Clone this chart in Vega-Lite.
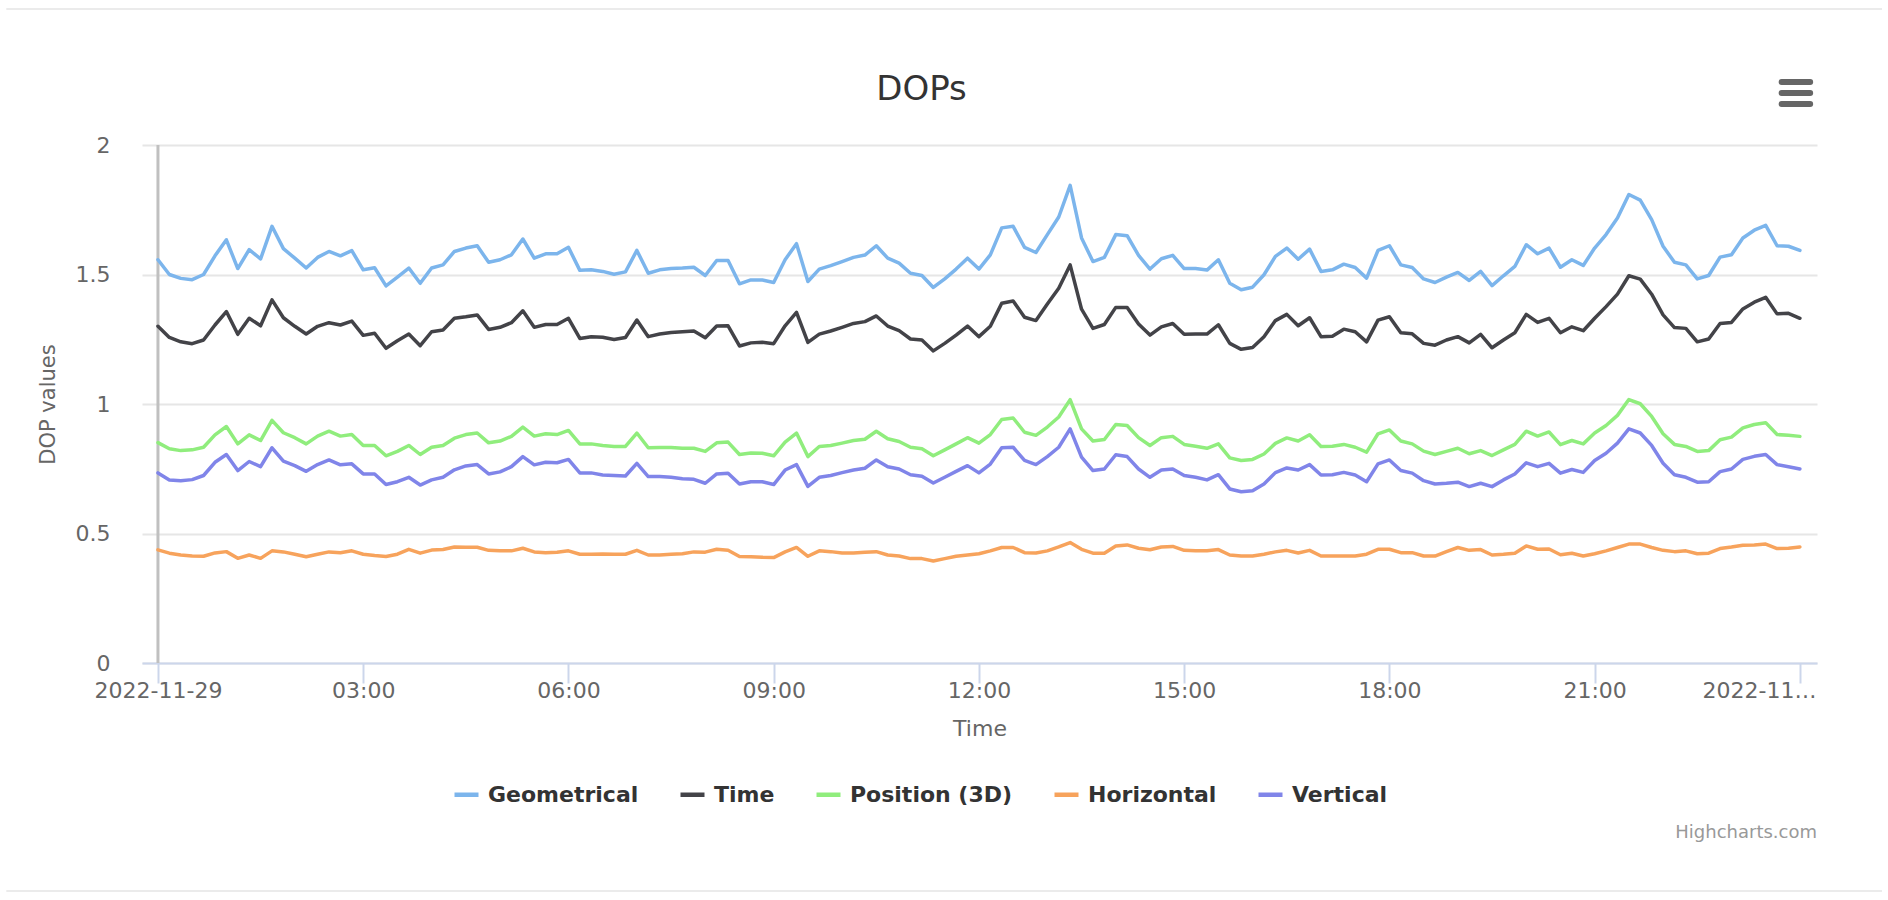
{
"$schema":"https://vega.github.io/schema/vega-lite/v6.json",
"autosize":{"type":"none"},
"width":1675,"height":518,
"padding":{"left":142,"top":145,"right":71,"bottom":237},
"background":"#ffffff",
"title":{"text":"DOPs","font":"DejaVu Sans","fontSize":34,"fontWeight":"normal","color":"#333333","anchor":"middle","frame":"group","dx":-58,"baseline":"alphabetic","offset":-126},
"config":{
 "view":{"stroke":null},
 "font":"DejaVu Sans",
 "axisX":{"domainColor":"#ccd6eb","domainWidth":2,"tickColor":"#ccd6eb","tickWidth":2,"tickSize":20,"grid":false,"labelFont":"DejaVu Sans","labelFontSize":22,"labelColor":"#666666","labelPadding":-3,"titleFont":"DejaVu Sans","titleFontSize":22,"titleFontWeight":"normal","titleColor":"#666666","zindex":1},
 "axisY":{"domain":false,"ticks":false,"gridColor":"#e6e6e6","gridWidth":2,"labelFont":"DejaVu Sans","labelFontSize":22,"labelColor":"#666666","labelPadding":32,"titleFont":"DejaVu Sans","titleFontSize":21,"titleFontWeight":"normal","titleColor":"#666666"}
},
"layer":[
{"data":{"values":[{}]},
 "mark":{"type":"rule","color":"#c0c0c0","strokeWidth":3},
 "encoding":{"x":{"datum":{"year":2022,"month":11,"date":29,"hours":0,"minutes":0},"type":"temporal","scale":{"domain":[{"year":2022,"month":11,"date":28,"hours":23,"minutes":46},{"year":2022,"month":11,"date":30,"hours":0,"minutes":15}]}}}},
{"data":{"values":[
{"t":"2022-11-29T00:00","s":"Geometrical","v":1.557},{"t":"2022-11-29T00:10","s":"Geometrical","v":1.50},{"t":"2022-11-29T00:20","s":"Geometrical","v":1.485},{"t":"2022-11-29T00:30","s":"Geometrical","v":1.48},{"t":"2022-11-29T00:40","s":"Geometrical","v":1.50},{"t":"2022-11-29T00:50","s":"Geometrical","v":1.572},
{"t":"2022-11-29T01:00","s":"Geometrical","v":1.634},{"t":"2022-11-29T01:10","s":"Geometrical","v":1.523},{"t":"2022-11-29T01:20","s":"Geometrical","v":1.596},{"t":"2022-11-29T01:30","s":"Geometrical","v":1.56},{"t":"2022-11-29T01:40","s":"Geometrical","v":1.686},{"t":"2022-11-29T01:50","s":"Geometrical","v":1.60},
{"t":"2022-11-29T02:00","s":"Geometrical","v":1.563},{"t":"2022-11-29T02:10","s":"Geometrical","v":1.525},{"t":"2022-11-29T02:20","s":"Geometrical","v":1.566},{"t":"2022-11-29T02:30","s":"Geometrical","v":1.589},{"t":"2022-11-29T02:40","s":"Geometrical","v":1.572},{"t":"2022-11-29T02:50","s":"Geometrical","v":1.592},
{"t":"2022-11-29T03:00","s":"Geometrical","v":1.518},{"t":"2022-11-29T03:10","s":"Geometrical","v":1.526},{"t":"2022-11-29T03:20","s":"Geometrical","v":1.456},{"t":"2022-11-29T03:30","s":"Geometrical","v":1.49},{"t":"2022-11-29T03:40","s":"Geometrical","v":1.525},{"t":"2022-11-29T03:50","s":"Geometrical","v":1.466},
{"t":"2022-11-29T04:00","s":"Geometrical","v":1.525},{"t":"2022-11-29T04:10","s":"Geometrical","v":1.537},{"t":"2022-11-29T04:20","s":"Geometrical","v":1.589},{"t":"2022-11-29T04:30","s":"Geometrical","v":1.602},{"t":"2022-11-29T04:40","s":"Geometrical","v":1.611},{"t":"2022-11-29T04:50","s":"Geometrical","v":1.547},
{"t":"2022-11-29T05:00","s":"Geometrical","v":1.557},{"t":"2022-11-29T05:10","s":"Geometrical","v":1.576},{"t":"2022-11-29T05:20","s":"Geometrical","v":1.637},{"t":"2022-11-29T05:30","s":"Geometrical","v":1.563},{"t":"2022-11-29T05:40","s":"Geometrical","v":1.58},{"t":"2022-11-29T05:50","s":"Geometrical","v":1.58},
{"t":"2022-11-29T06:00","s":"Geometrical","v":1.605},{"t":"2022-11-29T06:10","s":"Geometrical","v":1.516},{"t":"2022-11-29T06:20","s":"Geometrical","v":1.518},{"t":"2022-11-29T06:30","s":"Geometrical","v":1.512},{"t":"2022-11-29T06:40","s":"Geometrical","v":1.501},{"t":"2022-11-29T06:50","s":"Geometrical","v":1.51},
{"t":"2022-11-29T07:00","s":"Geometrical","v":1.593},{"t":"2022-11-29T07:10","s":"Geometrical","v":1.505},{"t":"2022-11-29T07:20","s":"Geometrical","v":1.518},{"t":"2022-11-29T07:30","s":"Geometrical","v":1.523},{"t":"2022-11-29T07:40","s":"Geometrical","v":1.525},{"t":"2022-11-29T07:50","s":"Geometrical","v":1.528},
{"t":"2022-11-29T08:00","s":"Geometrical","v":1.496},{"t":"2022-11-29T08:10","s":"Geometrical","v":1.554},{"t":"2022-11-29T08:20","s":"Geometrical","v":1.554},{"t":"2022-11-29T08:30","s":"Geometrical","v":1.464},{"t":"2022-11-29T08:40","s":"Geometrical","v":1.479},{"t":"2022-11-29T08:50","s":"Geometrical","v":1.479},
{"t":"2022-11-29T09:00","s":"Geometrical","v":1.469},{"t":"2022-11-29T09:10","s":"Geometrical","v":1.557},{"t":"2022-11-29T09:20","s":"Geometrical","v":1.619},{"t":"2022-11-29T09:30","s":"Geometrical","v":1.473},{"t":"2022-11-29T09:40","s":"Geometrical","v":1.521},{"t":"2022-11-29T09:50","s":"Geometrical","v":1.534},
{"t":"2022-11-29T10:00","s":"Geometrical","v":1.55},{"t":"2022-11-29T10:10","s":"Geometrical","v":1.566},{"t":"2022-11-29T10:20","s":"Geometrical","v":1.575},{"t":"2022-11-29T10:30","s":"Geometrical","v":1.611},{"t":"2022-11-29T10:40","s":"Geometrical","v":1.563},{"t":"2022-11-29T10:50","s":"Geometrical","v":1.544},
{"t":"2022-11-29T11:00","s":"Geometrical","v":1.505},{"t":"2022-11-29T11:10","s":"Geometrical","v":1.496},{"t":"2022-11-29T11:20","s":"Geometrical","v":1.45},{"t":"2022-11-29T11:30","s":"Geometrical","v":1.483},{"t":"2022-11-29T11:40","s":"Geometrical","v":1.521},{"t":"2022-11-29T11:50","s":"Geometrical","v":1.563},
{"t":"2022-11-29T12:00","s":"Geometrical","v":1.521},{"t":"2022-11-29T12:10","s":"Geometrical","v":1.576},{"t":"2022-11-29T12:20","s":"Geometrical","v":1.68},{"t":"2022-11-29T12:30","s":"Geometrical","v":1.686},{"t":"2022-11-29T12:40","s":"Geometrical","v":1.605},{"t":"2022-11-29T12:50","s":"Geometrical","v":1.585},
{"t":"2022-11-29T13:00","s":"Geometrical","v":1.654},{"t":"2022-11-29T13:10","s":"Geometrical","v":1.722},{"t":"2022-11-29T13:20","s":"Geometrical","v":1.844},{"t":"2022-11-29T13:30","s":"Geometrical","v":1.641},{"t":"2022-11-29T13:40","s":"Geometrical","v":1.55},{"t":"2022-11-29T13:50","s":"Geometrical","v":1.566},
{"t":"2022-11-29T14:00","s":"Geometrical","v":1.654},{"t":"2022-11-29T14:10","s":"Geometrical","v":1.65},{"t":"2022-11-29T14:20","s":"Geometrical","v":1.574},{"t":"2022-11-29T14:30","s":"Geometrical","v":1.521},{"t":"2022-11-29T14:40","s":"Geometrical","v":1.561},{"t":"2022-11-29T14:50","s":"Geometrical","v":1.574},
{"t":"2022-11-29T15:00","s":"Geometrical","v":1.523},{"t":"2022-11-29T15:10","s":"Geometrical","v":1.523},{"t":"2022-11-29T15:20","s":"Geometrical","v":1.517},{"t":"2022-11-29T15:30","s":"Geometrical","v":1.557},{"t":"2022-11-29T15:40","s":"Geometrical","v":1.466},{"t":"2022-11-29T15:50","s":"Geometrical","v":1.441},
{"t":"2022-11-29T16:00","s":"Geometrical","v":1.451},{"t":"2022-11-29T16:10","s":"Geometrical","v":1.499},{"t":"2022-11-29T16:20","s":"Geometrical","v":1.57},{"t":"2022-11-29T16:30","s":"Geometrical","v":1.602},{"t":"2022-11-29T16:40","s":"Geometrical","v":1.559},{"t":"2022-11-29T16:50","s":"Geometrical","v":1.598},
{"t":"2022-11-29T17:00","s":"Geometrical","v":1.512},{"t":"2022-11-29T17:10","s":"Geometrical","v":1.518},{"t":"2022-11-29T17:20","s":"Geometrical","v":1.54},{"t":"2022-11-29T17:30","s":"Geometrical","v":1.527},{"t":"2022-11-29T17:40","s":"Geometrical","v":1.486},{"t":"2022-11-29T17:50","s":"Geometrical","v":1.593},
{"t":"2022-11-29T18:00","s":"Geometrical","v":1.611},{"t":"2022-11-29T18:10","s":"Geometrical","v":1.537},{"t":"2022-11-29T18:20","s":"Geometrical","v":1.527},{"t":"2022-11-29T18:30","s":"Geometrical","v":1.483},{"t":"2022-11-29T18:40","s":"Geometrical","v":1.469},{"t":"2022-11-29T18:50","s":"Geometrical","v":1.49},
{"t":"2022-11-29T19:00","s":"Geometrical","v":1.508},{"t":"2022-11-29T19:10","s":"Geometrical","v":1.477},{"t":"2022-11-29T19:20","s":"Geometrical","v":1.512},{"t":"2022-11-29T19:30","s":"Geometrical","v":1.457},{"t":"2022-11-29T19:40","s":"Geometrical","v":1.495},{"t":"2022-11-29T19:50","s":"Geometrical","v":1.531},
{"t":"2022-11-29T20:00","s":"Geometrical","v":1.615},{"t":"2022-11-29T20:10","s":"Geometrical","v":1.58},{"t":"2022-11-29T20:20","s":"Geometrical","v":1.602},{"t":"2022-11-29T20:30","s":"Geometrical","v":1.528},{"t":"2022-11-29T20:40","s":"Geometrical","v":1.557},{"t":"2022-11-29T20:50","s":"Geometrical","v":1.535},
{"t":"2022-11-29T21:00","s":"Geometrical","v":1.602},{"t":"2022-11-29T21:10","s":"Geometrical","v":1.654},{"t":"2022-11-29T21:20","s":"Geometrical","v":1.718},{"t":"2022-11-29T21:30","s":"Geometrical","v":1.809},{"t":"2022-11-29T21:40","s":"Geometrical","v":1.787},{"t":"2022-11-29T21:50","s":"Geometrical","v":1.712},
{"t":"2022-11-29T22:00","s":"Geometrical","v":1.609},{"t":"2022-11-29T22:10","s":"Geometrical","v":1.547},{"t":"2022-11-29T22:20","s":"Geometrical","v":1.537},{"t":"2022-11-29T22:30","s":"Geometrical","v":1.483},{"t":"2022-11-29T22:40","s":"Geometrical","v":1.496},{"t":"2022-11-29T22:50","s":"Geometrical","v":1.567},
{"t":"2022-11-29T23:00","s":"Geometrical","v":1.576},{"t":"2022-11-29T23:10","s":"Geometrical","v":1.641},{"t":"2022-11-29T23:20","s":"Geometrical","v":1.671},{"t":"2022-11-29T23:30","s":"Geometrical","v":1.69},{"t":"2022-11-29T23:40","s":"Geometrical","v":1.611},{"t":"2022-11-29T23:50","s":"Geometrical","v":1.609},
{"t":"2022-11-30T00:00","s":"Geometrical","v":1.593},
{"t":"2022-11-29T00:00","s":"Time","v":1.30},{"t":"2022-11-29T00:10","s":"Time","v":1.257},{"t":"2022-11-29T00:20","s":"Time","v":1.24},{"t":"2022-11-29T00:30","s":"Time","v":1.233},{"t":"2022-11-29T00:40","s":"Time","v":1.247},{"t":"2022-11-29T00:50","s":"Time","v":1.305},
{"t":"2022-11-29T01:00","s":"Time","v":1.357},{"t":"2022-11-29T01:10","s":"Time","v":1.269},{"t":"2022-11-29T01:20","s":"Time","v":1.331},{"t":"2022-11-29T01:30","s":"Time","v":1.302},{"t":"2022-11-29T01:40","s":"Time","v":1.402},{"t":"2022-11-29T01:50","s":"Time","v":1.333},
{"t":"2022-11-29T02:00","s":"Time","v":1.30},{"t":"2022-11-29T02:10","s":"Time","v":1.27},{"t":"2022-11-29T02:20","s":"Time","v":1.30},{"t":"2022-11-29T02:30","s":"Time","v":1.314},{"t":"2022-11-29T02:40","s":"Time","v":1.305},{"t":"2022-11-29T02:50","s":"Time","v":1.32},
{"t":"2022-11-29T03:00","s":"Time","v":1.265},{"t":"2022-11-29T03:10","s":"Time","v":1.273},{"t":"2022-11-29T03:20","s":"Time","v":1.215},{"t":"2022-11-29T03:30","s":"Time","v":1.244},{"t":"2022-11-29T03:40","s":"Time","v":1.27},{"t":"2022-11-29T03:50","s":"Time","v":1.225},
{"t":"2022-11-29T04:00","s":"Time","v":1.279},{"t":"2022-11-29T04:10","s":"Time","v":1.286},{"t":"2022-11-29T04:20","s":"Time","v":1.331},{"t":"2022-11-29T04:30","s":"Time","v":1.337},{"t":"2022-11-29T04:40","s":"Time","v":1.344},{"t":"2022-11-29T04:50","s":"Time","v":1.288},
{"t":"2022-11-29T05:00","s":"Time","v":1.296},{"t":"2022-11-29T05:10","s":"Time","v":1.314},{"t":"2022-11-29T05:20","s":"Time","v":1.36},{"t":"2022-11-29T05:30","s":"Time","v":1.296},{"t":"2022-11-29T05:40","s":"Time","v":1.307},{"t":"2022-11-29T05:50","s":"Time","v":1.307},
{"t":"2022-11-29T06:00","s":"Time","v":1.331},{"t":"2022-11-29T06:10","s":"Time","v":1.253},{"t":"2022-11-29T06:20","s":"Time","v":1.26},{"t":"2022-11-29T06:30","s":"Time","v":1.258},{"t":"2022-11-29T06:40","s":"Time","v":1.249},{"t":"2022-11-29T06:50","s":"Time","v":1.257},
{"t":"2022-11-29T07:00","s":"Time","v":1.324},{"t":"2022-11-29T07:10","s":"Time","v":1.26},{"t":"2022-11-29T07:20","s":"Time","v":1.27},{"t":"2022-11-29T07:30","s":"Time","v":1.276},{"t":"2022-11-29T07:40","s":"Time","v":1.279},{"t":"2022-11-29T07:50","s":"Time","v":1.282},
{"t":"2022-11-29T08:00","s":"Time","v":1.256},{"t":"2022-11-29T08:10","s":"Time","v":1.301},{"t":"2022-11-29T08:20","s":"Time","v":1.302},{"t":"2022-11-29T08:30","s":"Time","v":1.224},{"t":"2022-11-29T08:40","s":"Time","v":1.236},{"t":"2022-11-29T08:50","s":"Time","v":1.238},
{"t":"2022-11-29T09:00","s":"Time","v":1.233},{"t":"2022-11-29T09:10","s":"Time","v":1.302},{"t":"2022-11-29T09:20","s":"Time","v":1.354},{"t":"2022-11-29T09:30","s":"Time","v":1.238},{"t":"2022-11-29T09:40","s":"Time","v":1.27},{"t":"2022-11-29T09:50","s":"Time","v":1.282},
{"t":"2022-11-29T10:00","s":"Time","v":1.296},{"t":"2022-11-29T10:10","s":"Time","v":1.311},{"t":"2022-11-29T10:20","s":"Time","v":1.318},{"t":"2022-11-29T10:30","s":"Time","v":1.34},{"t":"2022-11-29T10:40","s":"Time","v":1.301},{"t":"2022-11-29T10:50","s":"Time","v":1.283},
{"t":"2022-11-29T11:00","s":"Time","v":1.251},{"t":"2022-11-29T11:10","s":"Time","v":1.247},{"t":"2022-11-29T11:20","s":"Time","v":1.205},{"t":"2022-11-29T11:30","s":"Time","v":1.234},{"t":"2022-11-29T11:40","s":"Time","v":1.266},{"t":"2022-11-29T11:50","s":"Time","v":1.301},
{"t":"2022-11-29T12:00","s":"Time","v":1.26},{"t":"2022-11-29T12:10","s":"Time","v":1.30},{"t":"2022-11-29T12:20","s":"Time","v":1.389},{"t":"2022-11-29T12:30","s":"Time","v":1.398},{"t":"2022-11-29T12:40","s":"Time","v":1.335},{"t":"2022-11-29T12:50","s":"Time","v":1.322},
{"t":"2022-11-29T13:00","s":"Time","v":1.386},{"t":"2022-11-29T13:10","s":"Time","v":1.447},{"t":"2022-11-29T13:20","s":"Time","v":1.537},{"t":"2022-11-29T13:30","s":"Time","v":1.366},{"t":"2022-11-29T13:40","s":"Time","v":1.292},{"t":"2022-11-29T13:50","s":"Time","v":1.307},
{"t":"2022-11-29T14:00","s":"Time","v":1.373},{"t":"2022-11-29T14:10","s":"Time","v":1.373},{"t":"2022-11-29T14:20","s":"Time","v":1.309},{"t":"2022-11-29T14:30","s":"Time","v":1.266},{"t":"2022-11-29T14:40","s":"Time","v":1.298},{"t":"2022-11-29T14:50","s":"Time","v":1.311},
{"t":"2022-11-29T15:00","s":"Time","v":1.269},{"t":"2022-11-29T15:10","s":"Time","v":1.27},{"t":"2022-11-29T15:20","s":"Time","v":1.27},{"t":"2022-11-29T15:30","s":"Time","v":1.306},{"t":"2022-11-29T15:40","s":"Time","v":1.234},{"t":"2022-11-29T15:50","s":"Time","v":1.211},
{"t":"2022-11-29T16:00","s":"Time","v":1.218},{"t":"2022-11-29T16:10","s":"Time","v":1.26},{"t":"2022-11-29T16:20","s":"Time","v":1.322},{"t":"2022-11-29T16:30","s":"Time","v":1.346},{"t":"2022-11-29T16:40","s":"Time","v":1.302},{"t":"2022-11-29T16:50","s":"Time","v":1.333},
{"t":"2022-11-29T17:00","s":"Time","v":1.26},{"t":"2022-11-29T17:10","s":"Time","v":1.262},{"t":"2022-11-29T17:20","s":"Time","v":1.289},{"t":"2022-11-29T17:30","s":"Time","v":1.279},{"t":"2022-11-29T17:40","s":"Time","v":1.24},{"t":"2022-11-29T17:50","s":"Time","v":1.324},
{"t":"2022-11-29T18:00","s":"Time","v":1.337},{"t":"2022-11-29T18:10","s":"Time","v":1.275},{"t":"2022-11-29T18:20","s":"Time","v":1.271},{"t":"2022-11-29T18:30","s":"Time","v":1.234},{"t":"2022-11-29T18:40","s":"Time","v":1.227},{"t":"2022-11-29T18:50","s":"Time","v":1.247},
{"t":"2022-11-29T19:00","s":"Time","v":1.26},{"t":"2022-11-29T19:10","s":"Time","v":1.236},{"t":"2022-11-29T19:20","s":"Time","v":1.269},{"t":"2022-11-29T19:30","s":"Time","v":1.217},{"t":"2022-11-29T19:40","s":"Time","v":1.247},{"t":"2022-11-29T19:50","s":"Time","v":1.275},
{"t":"2022-11-29T20:00","s":"Time","v":1.346},{"t":"2022-11-29T20:10","s":"Time","v":1.315},{"t":"2022-11-29T20:20","s":"Time","v":1.331},{"t":"2022-11-29T20:30","s":"Time","v":1.275},{"t":"2022-11-29T20:40","s":"Time","v":1.298},{"t":"2022-11-29T20:50","s":"Time","v":1.283},
{"t":"2022-11-29T21:00","s":"Time","v":1.331},{"t":"2022-11-29T21:10","s":"Time","v":1.376},{"t":"2022-11-29T21:20","s":"Time","v":1.424},{"t":"2022-11-29T21:30","s":"Time","v":1.495},{"t":"2022-11-29T21:40","s":"Time","v":1.482},{"t":"2022-11-29T21:50","s":"Time","v":1.424},
{"t":"2022-11-29T22:00","s":"Time","v":1.344},{"t":"2022-11-29T22:10","s":"Time","v":1.295},{"t":"2022-11-29T22:20","s":"Time","v":1.292},{"t":"2022-11-29T22:30","s":"Time","v":1.24},{"t":"2022-11-29T22:40","s":"Time","v":1.251},{"t":"2022-11-29T22:50","s":"Time","v":1.311},
{"t":"2022-11-29T23:00","s":"Time","v":1.315},{"t":"2022-11-29T23:10","s":"Time","v":1.367},{"t":"2022-11-29T23:20","s":"Time","v":1.393},{"t":"2022-11-29T23:30","s":"Time","v":1.412},{"t":"2022-11-29T23:40","s":"Time","v":1.348},{"t":"2022-11-29T23:50","s":"Time","v":1.35},
{"t":"2022-11-30T00:00","s":"Time","v":1.331},
{"t":"2022-11-29T00:00","s":"Position (3D)","v":0.851},{"t":"2022-11-29T00:10","s":"Position (3D)","v":0.827},{"t":"2022-11-29T00:20","s":"Position (3D)","v":0.82},{"t":"2022-11-29T00:30","s":"Position (3D)","v":0.823},{"t":"2022-11-29T00:40","s":"Position (3D)","v":0.833},{"t":"2022-11-29T00:50","s":"Position (3D)","v":0.881},
{"t":"2022-11-29T01:00","s":"Position (3D)","v":0.913},{"t":"2022-11-29T01:10","s":"Position (3D)","v":0.846},{"t":"2022-11-29T01:20","s":"Position (3D)","v":0.881},{"t":"2022-11-29T01:30","s":"Position (3D)","v":0.859},{"t":"2022-11-29T01:40","s":"Position (3D)","v":0.937},{"t":"2022-11-29T01:50","s":"Position (3D)","v":0.889},
{"t":"2022-11-29T02:00","s":"Position (3D)","v":0.87},{"t":"2022-11-29T02:10","s":"Position (3D)","v":0.846},{"t":"2022-11-29T02:20","s":"Position (3D)","v":0.876},{"t":"2022-11-29T02:30","s":"Position (3D)","v":0.895},{"t":"2022-11-29T02:40","s":"Position (3D)","v":0.876},{"t":"2022-11-29T02:50","s":"Position (3D)","v":0.882},
{"t":"2022-11-29T03:00","s":"Position (3D)","v":0.84},{"t":"2022-11-29T03:10","s":"Position (3D)","v":0.84},{"t":"2022-11-29T03:20","s":"Position (3D)","v":0.80},{"t":"2022-11-29T03:30","s":"Position (3D)","v":0.817},{"t":"2022-11-29T03:40","s":"Position (3D)","v":0.84},{"t":"2022-11-29T03:50","s":"Position (3D)","v":0.805},
{"t":"2022-11-29T04:00","s":"Position (3D)","v":0.833},{"t":"2022-11-29T04:10","s":"Position (3D)","v":0.84},{"t":"2022-11-29T04:20","s":"Position (3D)","v":0.868},{"t":"2022-11-29T04:30","s":"Position (3D)","v":0.882},{"t":"2022-11-29T04:40","s":"Position (3D)","v":0.888},{"t":"2022-11-29T04:50","s":"Position (3D)","v":0.85},
{"t":"2022-11-29T05:00","s":"Position (3D)","v":0.857},{"t":"2022-11-29T05:10","s":"Position (3D)","v":0.875},{"t":"2022-11-29T05:20","s":"Position (3D)","v":0.911},{"t":"2022-11-29T05:30","s":"Position (3D)","v":0.876},{"t":"2022-11-29T05:40","s":"Position (3D)","v":0.885},{"t":"2022-11-29T05:50","s":"Position (3D)","v":0.882},
{"t":"2022-11-29T06:00","s":"Position (3D)","v":0.898},{"t":"2022-11-29T06:10","s":"Position (3D)","v":0.846},{"t":"2022-11-29T06:20","s":"Position (3D)","v":0.846},{"t":"2022-11-29T06:30","s":"Position (3D)","v":0.84},{"t":"2022-11-29T06:40","s":"Position (3D)","v":0.836},{"t":"2022-11-29T06:50","s":"Position (3D)","v":0.836},
{"t":"2022-11-29T07:00","s":"Position (3D)","v":0.888},{"t":"2022-11-29T07:10","s":"Position (3D)","v":0.831},{"t":"2022-11-29T07:20","s":"Position (3D)","v":0.832},{"t":"2022-11-29T07:30","s":"Position (3D)","v":0.832},{"t":"2022-11-29T07:40","s":"Position (3D)","v":0.829},{"t":"2022-11-29T07:50","s":"Position (3D)","v":0.829},
{"t":"2022-11-29T08:00","s":"Position (3D)","v":0.817},{"t":"2022-11-29T08:10","s":"Position (3D)","v":0.85},{"t":"2022-11-29T08:20","s":"Position (3D)","v":0.853},{"t":"2022-11-29T08:30","s":"Position (3D)","v":0.805},{"t":"2022-11-29T08:40","s":"Position (3D)","v":0.811},{"t":"2022-11-29T08:50","s":"Position (3D)","v":0.81},
{"t":"2022-11-29T09:00","s":"Position (3D)","v":0.80},{"t":"2022-11-29T09:10","s":"Position (3D)","v":0.853},{"t":"2022-11-29T09:20","s":"Position (3D)","v":0.888},{"t":"2022-11-29T09:30","s":"Position (3D)","v":0.797},{"t":"2022-11-29T09:40","s":"Position (3D)","v":0.836},{"t":"2022-11-29T09:50","s":"Position (3D)","v":0.84},
{"t":"2022-11-29T10:00","s":"Position (3D)","v":0.849},{"t":"2022-11-29T10:10","s":"Position (3D)","v":0.859},{"t":"2022-11-29T10:20","s":"Position (3D)","v":0.864},{"t":"2022-11-29T10:30","s":"Position (3D)","v":0.895},{"t":"2022-11-29T10:40","s":"Position (3D)","v":0.866},{"t":"2022-11-29T10:50","s":"Position (3D)","v":0.855},
{"t":"2022-11-29T11:00","s":"Position (3D)","v":0.833},{"t":"2022-11-29T11:10","s":"Position (3D)","v":0.827},{"t":"2022-11-29T11:20","s":"Position (3D)","v":0.80},{"t":"2022-11-29T11:30","s":"Position (3D)","v":0.823},{"t":"2022-11-29T11:40","s":"Position (3D)","v":0.846},{"t":"2022-11-29T11:50","s":"Position (3D)","v":0.87},
{"t":"2022-11-29T12:00","s":"Position (3D)","v":0.849},{"t":"2022-11-29T12:10","s":"Position (3D)","v":0.882},{"t":"2022-11-29T12:20","s":"Position (3D)","v":0.94},{"t":"2022-11-29T12:30","s":"Position (3D)","v":0.946},{"t":"2022-11-29T12:40","s":"Position (3D)","v":0.891},{"t":"2022-11-29T12:50","s":"Position (3D)","v":0.879},
{"t":"2022-11-29T13:00","s":"Position (3D)","v":0.911},{"t":"2022-11-29T13:10","s":"Position (3D)","v":0.95},{"t":"2022-11-29T13:20","s":"Position (3D)","v":1.017},{"t":"2022-11-29T13:30","s":"Position (3D)","v":0.904},{"t":"2022-11-29T13:40","s":"Position (3D)","v":0.857},{"t":"2022-11-29T13:50","s":"Position (3D)","v":0.863},
{"t":"2022-11-29T14:00","s":"Position (3D)","v":0.921},{"t":"2022-11-29T14:10","s":"Position (3D)","v":0.917},{"t":"2022-11-29T14:20","s":"Position (3D)","v":0.87},{"t":"2022-11-29T14:30","s":"Position (3D)","v":0.84},{"t":"2022-11-29T14:40","s":"Position (3D)","v":0.87},{"t":"2022-11-29T14:50","s":"Position (3D)","v":0.875},
{"t":"2022-11-29T15:00","s":"Position (3D)","v":0.844},{"t":"2022-11-29T15:10","s":"Position (3D)","v":0.837},{"t":"2022-11-29T15:20","s":"Position (3D)","v":0.829},{"t":"2022-11-29T15:30","s":"Position (3D)","v":0.846},{"t":"2022-11-29T15:40","s":"Position (3D)","v":0.792},{"t":"2022-11-29T15:50","s":"Position (3D)","v":0.782},
{"t":"2022-11-29T16:00","s":"Position (3D)","v":0.786},{"t":"2022-11-29T16:10","s":"Position (3D)","v":0.807},{"t":"2022-11-29T16:20","s":"Position (3D)","v":0.848},{"t":"2022-11-29T16:30","s":"Position (3D)","v":0.869},{"t":"2022-11-29T16:40","s":"Position (3D)","v":0.857},{"t":"2022-11-29T16:50","s":"Position (3D)","v":0.881},
{"t":"2022-11-29T17:00","s":"Position (3D)","v":0.836},{"t":"2022-11-29T17:10","s":"Position (3D)","v":0.837},{"t":"2022-11-29T17:20","s":"Position (3D)","v":0.844},{"t":"2022-11-29T17:30","s":"Position (3D)","v":0.833},{"t":"2022-11-29T17:40","s":"Position (3D)","v":0.814},{"t":"2022-11-29T17:50","s":"Position (3D)","v":0.885},
{"t":"2022-11-29T18:00","s":"Position (3D)","v":0.90},{"t":"2022-11-29T18:10","s":"Position (3D)","v":0.857},{"t":"2022-11-29T18:20","s":"Position (3D)","v":0.846},{"t":"2022-11-29T18:30","s":"Position (3D)","v":0.818},{"t":"2022-11-29T18:40","s":"Position (3D)","v":0.805},{"t":"2022-11-29T18:50","s":"Position (3D)","v":0.817},
{"t":"2022-11-29T19:00","s":"Position (3D)","v":0.829},{"t":"2022-11-29T19:10","s":"Position (3D)","v":0.808},{"t":"2022-11-29T19:20","s":"Position (3D)","v":0.82},{"t":"2022-11-29T19:30","s":"Position (3D)","v":0.801},{"t":"2022-11-29T19:40","s":"Position (3D)","v":0.823},{"t":"2022-11-29T19:50","s":"Position (3D)","v":0.844},
{"t":"2022-11-29T20:00","s":"Position (3D)","v":0.895},{"t":"2022-11-29T20:10","s":"Position (3D)","v":0.876},{"t":"2022-11-29T20:20","s":"Position (3D)","v":0.892},{"t":"2022-11-29T20:30","s":"Position (3D)","v":0.843},{"t":"2022-11-29T20:40","s":"Position (3D)","v":0.859},{"t":"2022-11-29T20:50","s":"Position (3D)","v":0.846},
{"t":"2022-11-29T21:00","s":"Position (3D)","v":0.888},{"t":"2022-11-29T21:10","s":"Position (3D)","v":0.917},{"t":"2022-11-29T21:20","s":"Position (3D)","v":0.956},{"t":"2022-11-29T21:30","s":"Position (3D)","v":1.017},{"t":"2022-11-29T21:40","s":"Position (3D)","v":1.001},{"t":"2022-11-29T21:50","s":"Position (3D)","v":0.952},
{"t":"2022-11-29T22:00","s":"Position (3D)","v":0.885},{"t":"2022-11-29T22:10","s":"Position (3D)","v":0.844},{"t":"2022-11-29T22:20","s":"Position (3D)","v":0.836},{"t":"2022-11-29T22:30","s":"Position (3D)","v":0.817},{"t":"2022-11-29T22:40","s":"Position (3D)","v":0.82},{"t":"2022-11-29T22:50","s":"Position (3D)","v":0.862},
{"t":"2022-11-29T23:00","s":"Position (3D)","v":0.872},{"t":"2022-11-29T23:10","s":"Position (3D)","v":0.908},{"t":"2022-11-29T23:20","s":"Position (3D)","v":0.921},{"t":"2022-11-29T23:30","s":"Position (3D)","v":0.928},{"t":"2022-11-29T23:40","s":"Position (3D)","v":0.882},{"t":"2022-11-29T23:50","s":"Position (3D)","v":0.879},
{"t":"2022-11-30T00:00","s":"Position (3D)","v":0.875},
{"t":"2022-11-29T00:00","s":"Horizontal","v":0.437},{"t":"2022-11-29T00:10","s":"Horizontal","v":0.424},{"t":"2022-11-29T00:20","s":"Horizontal","v":0.417},{"t":"2022-11-29T00:30","s":"Horizontal","v":0.413},{"t":"2022-11-29T00:40","s":"Horizontal","v":0.412},{"t":"2022-11-29T00:50","s":"Horizontal","v":0.425},
{"t":"2022-11-29T01:00","s":"Horizontal","v":0.43},{"t":"2022-11-29T01:10","s":"Horizontal","v":0.404},{"t":"2022-11-29T01:20","s":"Horizontal","v":0.417},{"t":"2022-11-29T01:30","s":"Horizontal","v":0.404},{"t":"2022-11-29T01:40","s":"Horizontal","v":0.433},{"t":"2022-11-29T01:50","s":"Horizontal","v":0.429},
{"t":"2022-11-29T02:00","s":"Horizontal","v":0.42},{"t":"2022-11-29T02:10","s":"Horizontal","v":0.41},{"t":"2022-11-29T02:20","s":"Horizontal","v":0.42},{"t":"2022-11-29T02:30","s":"Horizontal","v":0.429},{"t":"2022-11-29T02:40","s":"Horizontal","v":0.426},{"t":"2022-11-29T02:50","s":"Horizontal","v":0.433},
{"t":"2022-11-29T03:00","s":"Horizontal","v":0.42},{"t":"2022-11-29T03:10","s":"Horizontal","v":0.415},{"t":"2022-11-29T03:20","s":"Horizontal","v":0.411},{"t":"2022-11-29T03:30","s":"Horizontal","v":0.42},{"t":"2022-11-29T03:40","s":"Horizontal","v":0.439},{"t":"2022-11-29T03:50","s":"Horizontal","v":0.424},
{"t":"2022-11-29T04:00","s":"Horizontal","v":0.436},{"t":"2022-11-29T04:10","s":"Horizontal","v":0.438},{"t":"2022-11-29T04:20","s":"Horizontal","v":0.448},{"t":"2022-11-29T04:30","s":"Horizontal","v":0.447},{"t":"2022-11-29T04:40","s":"Horizontal","v":0.447},{"t":"2022-11-29T04:50","s":"Horizontal","v":0.435},
{"t":"2022-11-29T05:00","s":"Horizontal","v":0.433},{"t":"2022-11-29T05:10","s":"Horizontal","v":0.433},{"t":"2022-11-29T05:20","s":"Horizontal","v":0.443},{"t":"2022-11-29T05:30","s":"Horizontal","v":0.429},{"t":"2022-11-29T05:40","s":"Horizontal","v":0.426},{"t":"2022-11-29T05:50","s":"Horizontal","v":0.428},
{"t":"2022-11-29T06:00","s":"Horizontal","v":0.433},{"t":"2022-11-29T06:10","s":"Horizontal","v":0.42},{"t":"2022-11-29T06:20","s":"Horizontal","v":0.42},{"t":"2022-11-29T06:30","s":"Horizontal","v":0.421},{"t":"2022-11-29T06:40","s":"Horizontal","v":0.42},{"t":"2022-11-29T06:50","s":"Horizontal","v":0.42},
{"t":"2022-11-29T07:00","s":"Horizontal","v":0.435},{"t":"2022-11-29T07:10","s":"Horizontal","v":0.417},{"t":"2022-11-29T07:20","s":"Horizontal","v":0.417},{"t":"2022-11-29T07:30","s":"Horizontal","v":0.42},{"t":"2022-11-29T07:40","s":"Horizontal","v":0.422},{"t":"2022-11-29T07:50","s":"Horizontal","v":0.429},
{"t":"2022-11-29T08:00","s":"Horizontal","v":0.428},{"t":"2022-11-29T08:10","s":"Horizontal","v":0.439},{"t":"2022-11-29T08:20","s":"Horizontal","v":0.435},{"t":"2022-11-29T08:30","s":"Horizontal","v":0.411},{"t":"2022-11-29T08:40","s":"Horizontal","v":0.41},{"t":"2022-11-29T08:50","s":"Horizontal","v":0.408},
{"t":"2022-11-29T09:00","s":"Horizontal","v":0.407},{"t":"2022-11-29T09:10","s":"Horizontal","v":0.429},{"t":"2022-11-29T09:20","s":"Horizontal","v":0.446},{"t":"2022-11-29T09:30","s":"Horizontal","v":0.412},{"t":"2022-11-29T09:40","s":"Horizontal","v":0.433},{"t":"2022-11-29T09:50","s":"Horizontal","v":0.43},
{"t":"2022-11-29T10:00","s":"Horizontal","v":0.425},{"t":"2022-11-29T10:10","s":"Horizontal","v":0.425},{"t":"2022-11-29T10:20","s":"Horizontal","v":0.428},{"t":"2022-11-29T10:30","s":"Horizontal","v":0.43},{"t":"2022-11-29T10:40","s":"Horizontal","v":0.417},{"t":"2022-11-29T10:50","s":"Horizontal","v":0.413},
{"t":"2022-11-29T11:00","s":"Horizontal","v":0.403},{"t":"2022-11-29T11:10","s":"Horizontal","v":0.403},{"t":"2022-11-29T11:20","s":"Horizontal","v":0.394},{"t":"2022-11-29T11:30","s":"Horizontal","v":0.403},{"t":"2022-11-29T11:40","s":"Horizontal","v":0.412},{"t":"2022-11-29T11:50","s":"Horizontal","v":0.417},
{"t":"2022-11-29T12:00","s":"Horizontal","v":0.422},{"t":"2022-11-29T12:10","s":"Horizontal","v":0.433},{"t":"2022-11-29T12:20","s":"Horizontal","v":0.446},{"t":"2022-11-29T12:30","s":"Horizontal","v":0.446},{"t":"2022-11-29T12:40","s":"Horizontal","v":0.426},{"t":"2022-11-29T12:50","s":"Horizontal","v":0.425},
{"t":"2022-11-29T13:00","s":"Horizontal","v":0.433},{"t":"2022-11-29T13:10","s":"Horizontal","v":0.448},{"t":"2022-11-29T13:20","s":"Horizontal","v":0.465},{"t":"2022-11-29T13:30","s":"Horizontal","v":0.439},{"t":"2022-11-29T13:40","s":"Horizontal","v":0.424},{"t":"2022-11-29T13:50","s":"Horizontal","v":0.424},
{"t":"2022-11-29T14:00","s":"Horizontal","v":0.452},{"t":"2022-11-29T14:10","s":"Horizontal","v":0.456},{"t":"2022-11-29T14:20","s":"Horizontal","v":0.443},{"t":"2022-11-29T14:30","s":"Horizontal","v":0.437},{"t":"2022-11-29T14:40","s":"Horizontal","v":0.448},{"t":"2022-11-29T14:50","s":"Horizontal","v":0.45},
{"t":"2022-11-29T15:00","s":"Horizontal","v":0.435},{"t":"2022-11-29T15:10","s":"Horizontal","v":0.433},{"t":"2022-11-29T15:20","s":"Horizontal","v":0.433},{"t":"2022-11-29T15:30","s":"Horizontal","v":0.438},{"t":"2022-11-29T15:40","s":"Horizontal","v":0.417},{"t":"2022-11-29T15:50","s":"Horizontal","v":0.413},
{"t":"2022-11-29T16:00","s":"Horizontal","v":0.413},{"t":"2022-11-29T16:10","s":"Horizontal","v":0.42},{"t":"2022-11-29T16:20","s":"Horizontal","v":0.429},{"t":"2022-11-29T16:30","s":"Horizontal","v":0.435},{"t":"2022-11-29T16:40","s":"Horizontal","v":0.425},{"t":"2022-11-29T16:50","s":"Horizontal","v":0.435},
{"t":"2022-11-29T17:00","s":"Horizontal","v":0.413},{"t":"2022-11-29T17:10","s":"Horizontal","v":0.413},{"t":"2022-11-29T17:20","s":"Horizontal","v":0.413},{"t":"2022-11-29T17:30","s":"Horizontal","v":0.413},{"t":"2022-11-29T17:40","s":"Horizontal","v":0.42},{"t":"2022-11-29T17:50","s":"Horizontal","v":0.439},
{"t":"2022-11-29T18:00","s":"Horizontal","v":0.439},{"t":"2022-11-29T18:10","s":"Horizontal","v":0.426},{"t":"2022-11-29T18:20","s":"Horizontal","v":0.426},{"t":"2022-11-29T18:30","s":"Horizontal","v":0.413},{"t":"2022-11-29T18:40","s":"Horizontal","v":0.413},{"t":"2022-11-29T18:50","s":"Horizontal","v":0.43},
{"t":"2022-11-29T19:00","s":"Horizontal","v":0.446},{"t":"2022-11-29T19:10","s":"Horizontal","v":0.435},{"t":"2022-11-29T19:20","s":"Horizontal","v":0.438},{"t":"2022-11-29T19:30","s":"Horizontal","v":0.417},{"t":"2022-11-29T19:40","s":"Horizontal","v":0.42},{"t":"2022-11-29T19:50","s":"Horizontal","v":0.424},
{"t":"2022-11-29T20:00","s":"Horizontal","v":0.452},{"t":"2022-11-29T20:10","s":"Horizontal","v":0.439},{"t":"2022-11-29T20:20","s":"Horizontal","v":0.44},{"t":"2022-11-29T20:30","s":"Horizontal","v":0.418},{"t":"2022-11-29T20:40","s":"Horizontal","v":0.424},{"t":"2022-11-29T20:50","s":"Horizontal","v":0.413},
{"t":"2022-11-29T21:00","s":"Horizontal","v":0.422},{"t":"2022-11-29T21:10","s":"Horizontal","v":0.433},{"t":"2022-11-29T21:20","s":"Horizontal","v":0.446},{"t":"2022-11-29T21:30","s":"Horizontal","v":0.459},{"t":"2022-11-29T21:40","s":"Horizontal","v":0.459},{"t":"2022-11-29T21:50","s":"Horizontal","v":0.446},
{"t":"2022-11-29T22:00","s":"Horizontal","v":0.435},{"t":"2022-11-29T22:10","s":"Horizontal","v":0.43},{"t":"2022-11-29T22:20","s":"Horizontal","v":0.433},{"t":"2022-11-29T22:30","s":"Horizontal","v":0.422},{"t":"2022-11-29T22:40","s":"Horizontal","v":0.424},{"t":"2022-11-29T22:50","s":"Horizontal","v":0.442},
{"t":"2022-11-29T23:00","s":"Horizontal","v":0.448},{"t":"2022-11-29T23:10","s":"Horizontal","v":0.455},{"t":"2022-11-29T23:20","s":"Horizontal","v":0.456},{"t":"2022-11-29T23:30","s":"Horizontal","v":0.459},{"t":"2022-11-29T23:40","s":"Horizontal","v":0.442},{"t":"2022-11-29T23:50","s":"Horizontal","v":0.443},
{"t":"2022-11-30T00:00","s":"Horizontal","v":0.448},
{"t":"2022-11-29T00:00","s":"Vertical","v":0.734},{"t":"2022-11-29T00:10","s":"Vertical","v":0.707},{"t":"2022-11-29T00:20","s":"Vertical","v":0.704},{"t":"2022-11-29T00:30","s":"Vertical","v":0.708},{"t":"2022-11-29T00:40","s":"Vertical","v":0.724},{"t":"2022-11-29T00:50","s":"Vertical","v":0.775},
{"t":"2022-11-29T01:00","s":"Vertical","v":0.805},{"t":"2022-11-29T01:10","s":"Vertical","v":0.743},{"t":"2022-11-29T01:20","s":"Vertical","v":0.778},{"t":"2022-11-29T01:30","s":"Vertical","v":0.758},{"t":"2022-11-29T01:40","s":"Vertical","v":0.831},{"t":"2022-11-29T01:50","s":"Vertical","v":0.779},
{"t":"2022-11-29T02:00","s":"Vertical","v":0.762},{"t":"2022-11-29T02:10","s":"Vertical","v":0.74},{"t":"2022-11-29T02:20","s":"Vertical","v":0.766},{"t":"2022-11-29T02:30","s":"Vertical","v":0.784},{"t":"2022-11-29T02:40","s":"Vertical","v":0.765},{"t":"2022-11-29T02:50","s":"Vertical","v":0.769},
{"t":"2022-11-29T03:00","s":"Vertical","v":0.73},{"t":"2022-11-29T03:10","s":"Vertical","v":0.73},{"t":"2022-11-29T03:20","s":"Vertical","v":0.689},{"t":"2022-11-29T03:30","s":"Vertical","v":0.70},{"t":"2022-11-29T03:40","s":"Vertical","v":0.717},{"t":"2022-11-29T03:50","s":"Vertical","v":0.687},
{"t":"2022-11-29T04:00","s":"Vertical","v":0.707},{"t":"2022-11-29T04:10","s":"Vertical","v":0.717},{"t":"2022-11-29T04:20","s":"Vertical","v":0.746},{"t":"2022-11-29T04:30","s":"Vertical","v":0.761},{"t":"2022-11-29T04:40","s":"Vertical","v":0.766},{"t":"2022-11-29T04:50","s":"Vertical","v":0.73},
{"t":"2022-11-29T05:00","s":"Vertical","v":0.738},{"t":"2022-11-29T05:10","s":"Vertical","v":0.758},{"t":"2022-11-29T05:20","s":"Vertical","v":0.797},{"t":"2022-11-29T05:30","s":"Vertical","v":0.765},{"t":"2022-11-29T05:40","s":"Vertical","v":0.775},{"t":"2022-11-29T05:50","s":"Vertical","v":0.773},
{"t":"2022-11-29T06:00","s":"Vertical","v":0.786},{"t":"2022-11-29T06:10","s":"Vertical","v":0.734},{"t":"2022-11-29T06:20","s":"Vertical","v":0.734},{"t":"2022-11-29T06:30","s":"Vertical","v":0.726},{"t":"2022-11-29T06:40","s":"Vertical","v":0.724},{"t":"2022-11-29T06:50","s":"Vertical","v":0.722},
{"t":"2022-11-29T07:00","s":"Vertical","v":0.771},{"t":"2022-11-29T07:10","s":"Vertical","v":0.72},{"t":"2022-11-29T07:20","s":"Vertical","v":0.72},{"t":"2022-11-29T07:30","s":"Vertical","v":0.717},{"t":"2022-11-29T07:40","s":"Vertical","v":0.711},{"t":"2022-11-29T07:50","s":"Vertical","v":0.709},
{"t":"2022-11-29T08:00","s":"Vertical","v":0.694},{"t":"2022-11-29T08:10","s":"Vertical","v":0.73},{"t":"2022-11-29T08:20","s":"Vertical","v":0.733},{"t":"2022-11-29T08:30","s":"Vertical","v":0.691},{"t":"2022-11-29T08:40","s":"Vertical","v":0.70},{"t":"2022-11-29T08:50","s":"Vertical","v":0.70},
{"t":"2022-11-29T09:00","s":"Vertical","v":0.689},{"t":"2022-11-29T09:10","s":"Vertical","v":0.745},{"t":"2022-11-29T09:20","s":"Vertical","v":0.766},{"t":"2022-11-29T09:30","s":"Vertical","v":0.682},{"t":"2022-11-29T09:40","s":"Vertical","v":0.717},{"t":"2022-11-29T09:50","s":"Vertical","v":0.724},
{"t":"2022-11-29T10:00","s":"Vertical","v":0.735},{"t":"2022-11-29T10:10","s":"Vertical","v":0.745},{"t":"2022-11-29T10:20","s":"Vertical","v":0.752},{"t":"2022-11-29T10:30","s":"Vertical","v":0.784},{"t":"2022-11-29T10:40","s":"Vertical","v":0.758},{"t":"2022-11-29T10:50","s":"Vertical","v":0.749},
{"t":"2022-11-29T11:00","s":"Vertical","v":0.727},{"t":"2022-11-29T11:10","s":"Vertical","v":0.721},{"t":"2022-11-29T11:20","s":"Vertical","v":0.695},{"t":"2022-11-29T11:30","s":"Vertical","v":0.717},{"t":"2022-11-29T11:40","s":"Vertical","v":0.74},{"t":"2022-11-29T11:50","s":"Vertical","v":0.762},
{"t":"2022-11-29T12:00","s":"Vertical","v":0.734},{"t":"2022-11-29T12:10","s":"Vertical","v":0.768},{"t":"2022-11-29T12:20","s":"Vertical","v":0.831},{"t":"2022-11-29T12:30","s":"Vertical","v":0.833},{"t":"2022-11-29T12:40","s":"Vertical","v":0.782},{"t":"2022-11-29T12:50","s":"Vertical","v":0.766},
{"t":"2022-11-29T13:00","s":"Vertical","v":0.797},{"t":"2022-11-29T13:10","s":"Vertical","v":0.833},{"t":"2022-11-29T13:20","s":"Vertical","v":0.904},{"t":"2022-11-29T13:30","s":"Vertical","v":0.795},{"t":"2022-11-29T13:40","s":"Vertical","v":0.743},{"t":"2022-11-29T13:50","s":"Vertical","v":0.749},
{"t":"2022-11-29T14:00","s":"Vertical","v":0.804},{"t":"2022-11-29T14:10","s":"Vertical","v":0.797},{"t":"2022-11-29T14:20","s":"Vertical","v":0.749},{"t":"2022-11-29T14:30","s":"Vertical","v":0.717},{"t":"2022-11-29T14:40","s":"Vertical","v":0.745},{"t":"2022-11-29T14:50","s":"Vertical","v":0.749},
{"t":"2022-11-29T15:00","s":"Vertical","v":0.724},{"t":"2022-11-29T15:10","s":"Vertical","v":0.717},{"t":"2022-11-29T15:20","s":"Vertical","v":0.707},{"t":"2022-11-29T15:30","s":"Vertical","v":0.727},{"t":"2022-11-29T15:40","s":"Vertical","v":0.672},{"t":"2022-11-29T15:50","s":"Vertical","v":0.661},
{"t":"2022-11-29T16:00","s":"Vertical","v":0.665},{"t":"2022-11-29T16:10","s":"Vertical","v":0.691},{"t":"2022-11-29T16:20","s":"Vertical","v":0.735},{"t":"2022-11-29T16:30","s":"Vertical","v":0.753},{"t":"2022-11-29T16:40","s":"Vertical","v":0.745},{"t":"2022-11-29T16:50","s":"Vertical","v":0.766},
{"t":"2022-11-29T17:00","s":"Vertical","v":0.726},{"t":"2022-11-29T17:10","s":"Vertical","v":0.727},{"t":"2022-11-29T17:20","s":"Vertical","v":0.736},{"t":"2022-11-29T17:30","s":"Vertical","v":0.726},{"t":"2022-11-29T17:40","s":"Vertical","v":0.70},{"t":"2022-11-29T17:50","s":"Vertical","v":0.769},
{"t":"2022-11-29T18:00","s":"Vertical","v":0.784},{"t":"2022-11-29T18:10","s":"Vertical","v":0.743},{"t":"2022-11-29T18:20","s":"Vertical","v":0.733},{"t":"2022-11-29T18:30","s":"Vertical","v":0.704},{"t":"2022-11-29T18:40","s":"Vertical","v":0.691},{"t":"2022-11-29T18:50","s":"Vertical","v":0.694},
{"t":"2022-11-29T19:00","s":"Vertical","v":0.698},{"t":"2022-11-29T19:10","s":"Vertical","v":0.681},{"t":"2022-11-29T19:20","s":"Vertical","v":0.694},{"t":"2022-11-29T19:30","s":"Vertical","v":0.681},{"t":"2022-11-29T19:40","s":"Vertical","v":0.707},{"t":"2022-11-29T19:50","s":"Vertical","v":0.73},
{"t":"2022-11-29T20:00","s":"Vertical","v":0.773},{"t":"2022-11-29T20:10","s":"Vertical","v":0.758},{"t":"2022-11-29T20:20","s":"Vertical","v":0.771},{"t":"2022-11-29T20:30","s":"Vertical","v":0.733},{"t":"2022-11-29T20:40","s":"Vertical","v":0.747},{"t":"2022-11-29T20:50","s":"Vertical","v":0.736},
{"t":"2022-11-29T21:00","s":"Vertical","v":0.782},{"t":"2022-11-29T21:10","s":"Vertical","v":0.81},{"t":"2022-11-29T21:20","s":"Vertical","v":0.849},{"t":"2022-11-29T21:30","s":"Vertical","v":0.904},{"t":"2022-11-29T21:40","s":"Vertical","v":0.888},{"t":"2022-11-29T21:50","s":"Vertical","v":0.84},
{"t":"2022-11-29T22:00","s":"Vertical","v":0.771},{"t":"2022-11-29T22:10","s":"Vertical","v":0.727},{"t":"2022-11-29T22:20","s":"Vertical","v":0.717},{"t":"2022-11-29T22:30","s":"Vertical","v":0.698},{"t":"2022-11-29T22:40","s":"Vertical","v":0.70},{"t":"2022-11-29T22:50","s":"Vertical","v":0.739},
{"t":"2022-11-29T23:00","s":"Vertical","v":0.749},{"t":"2022-11-29T23:10","s":"Vertical","v":0.786},{"t":"2022-11-29T23:20","s":"Vertical","v":0.798},{"t":"2022-11-29T23:30","s":"Vertical","v":0.805},{"t":"2022-11-29T23:40","s":"Vertical","v":0.766},{"t":"2022-11-29T23:50","s":"Vertical","v":0.758},
{"t":"2022-11-30T00:00","s":"Vertical","v":0.749}
 ]},
 "mark":{"type":"line","strokeWidth":3.5,"strokeJoin":"round","strokeCap":"round"},
 "encoding":{
  "x":{"field":"t","type":"temporal","title":"Time",
   "scale":{"domain":[{"year":2022,"month":11,"date":28,"hours":23,"minutes":46},{"year":2022,"month":11,"date":30,"hours":0,"minutes":15}]},
   "axis":{"values":[{"year":2022,"month":11,"date":29,"hours":0},{"year":2022,"month":11,"date":29,"hours":3},{"year":2022,"month":11,"date":29,"hours":6},{"year":2022,"month":11,"date":29,"hours":9},{"year":2022,"month":11,"date":29,"hours":12},{"year":2022,"month":11,"date":29,"hours":15},{"year":2022,"month":11,"date":29,"hours":18},{"year":2022,"month":11,"date":29,"hours":21},{"year":2022,"month":11,"date":30,"hours":0}],
    "labelExpr":"hours(datum.value) == 0 ? (date(datum.value) == 29 ? '2022-11-29' : '2022-11…') : timeFormat(datum.value, '%H:%M')",
    "labelAlign":{"condition":{"test":"date(datum.value) == 30","value":"right"},"value":"center"},
    "labelOffset":{"condition":{"test":"date(datum.value) == 30","value":16},"value":0},
    "titleY":72,"titleBaseline":"alphabetic"}},
  "y":{"field":"v","type":"quantitative","title":"DOP values",
   "scale":{"domain":[0,2],"nice":false},
   "axis":{"values":[0,0.5,1,1.5,2],"format":"~g","titleX":-94,"titleY":259,"titleAngle":-90,"titleAlign":"center","titleBaseline":"middle"}},
  "color":{"field":"s","type":"nominal",
   "scale":{"domain":["Geometrical","Time","Position (3D)","Horizontal","Vertical"],"range":["#7cb5ec","#434348","#90ed7d","#f7a35c","#8085e9"]},
   "legend":{"orient":"none","legendX":310,"legendY":635,"direction":"horizontal","title":null,"symbolType":"stroke","symbolStrokeWidth":4.5,"symbolSize":576,"labelFont":"DejaVu Sans","labelFontSize":22,"labelFontWeight":"bold","labelColor":"#333333","labelOffset":7,"columnPadding":32,"labelLimit":400,"padding":0}}
 }},
{"data":{"values":[{}]},
 "mark":{"type":"text","text":"Highcharts.com","align":"right","baseline":"middle","fontSize":18,"color":"#999999","font":"DejaVu Sans"},
 "encoding":{"x":{"datum":{"year":2022,"month":11,"date":30,"hours":0,"minutes":15},"type":"temporal"},"y":{"datum":-0.656,"type":"quantitative","scale":{"domain":[0,2],"nice":false}}}},
{"data":{"values":[{}]},
 "mark":{"type":"rule","color":"#666666","strokeWidth":6,"strokeCap":"round"},
 "encoding":{"x":{"datum":{"year":2022,"month":11,"date":29,"hours":23,"minutes":44},"type":"temporal"},"x2":{"datum":{"year":2022,"month":11,"date":30,"hours":0,"minutes":9}},"y":{"datum":2.243,"type":"quantitative"}}},
{"data":{"values":[{}]},
 "mark":{"type":"rule","color":"#666666","strokeWidth":6,"strokeCap":"round"},
 "encoding":{"x":{"datum":{"year":2022,"month":11,"date":29,"hours":23,"minutes":44},"type":"temporal"},"x2":{"datum":{"year":2022,"month":11,"date":30,"hours":0,"minutes":9}},"y":{"datum":2.201,"type":"quantitative"}}},
{"data":{"values":[{}]},
 "mark":{"type":"rule","color":"#666666","strokeWidth":6,"strokeCap":"round"},
 "encoding":{"x":{"datum":{"year":2022,"month":11,"date":29,"hours":23,"minutes":44},"type":"temporal"},"x2":{"datum":{"year":2022,"month":11,"date":30,"hours":0,"minutes":9}},"y":{"datum":2.158,"type":"quantitative"}}},
{"data":{"values":[{}]},
 "mark":{"type":"rule","color":"#ebebeb","strokeWidth":2},
 "encoding":{"x":{"datum":{"year":2022,"month":11,"date":28,"hours":21,"minutes":47},"type":"temporal"},"x2":{"datum":{"year":2022,"month":11,"date":30,"hours":1,"minutes":12}},"y":{"datum":2.525,"type":"quantitative"}}},
{"data":{"values":[{}]},
 "mark":{"type":"rule","color":"#ebebeb","strokeWidth":2},
 "encoding":{"x":{"datum":{"year":2022,"month":11,"date":28,"hours":21,"minutes":47},"type":"temporal"},"x2":{"datum":{"year":2022,"month":11,"date":30,"hours":1,"minutes":12}},"y":{"datum":-0.88,"type":"quantitative"}}}
]
}
